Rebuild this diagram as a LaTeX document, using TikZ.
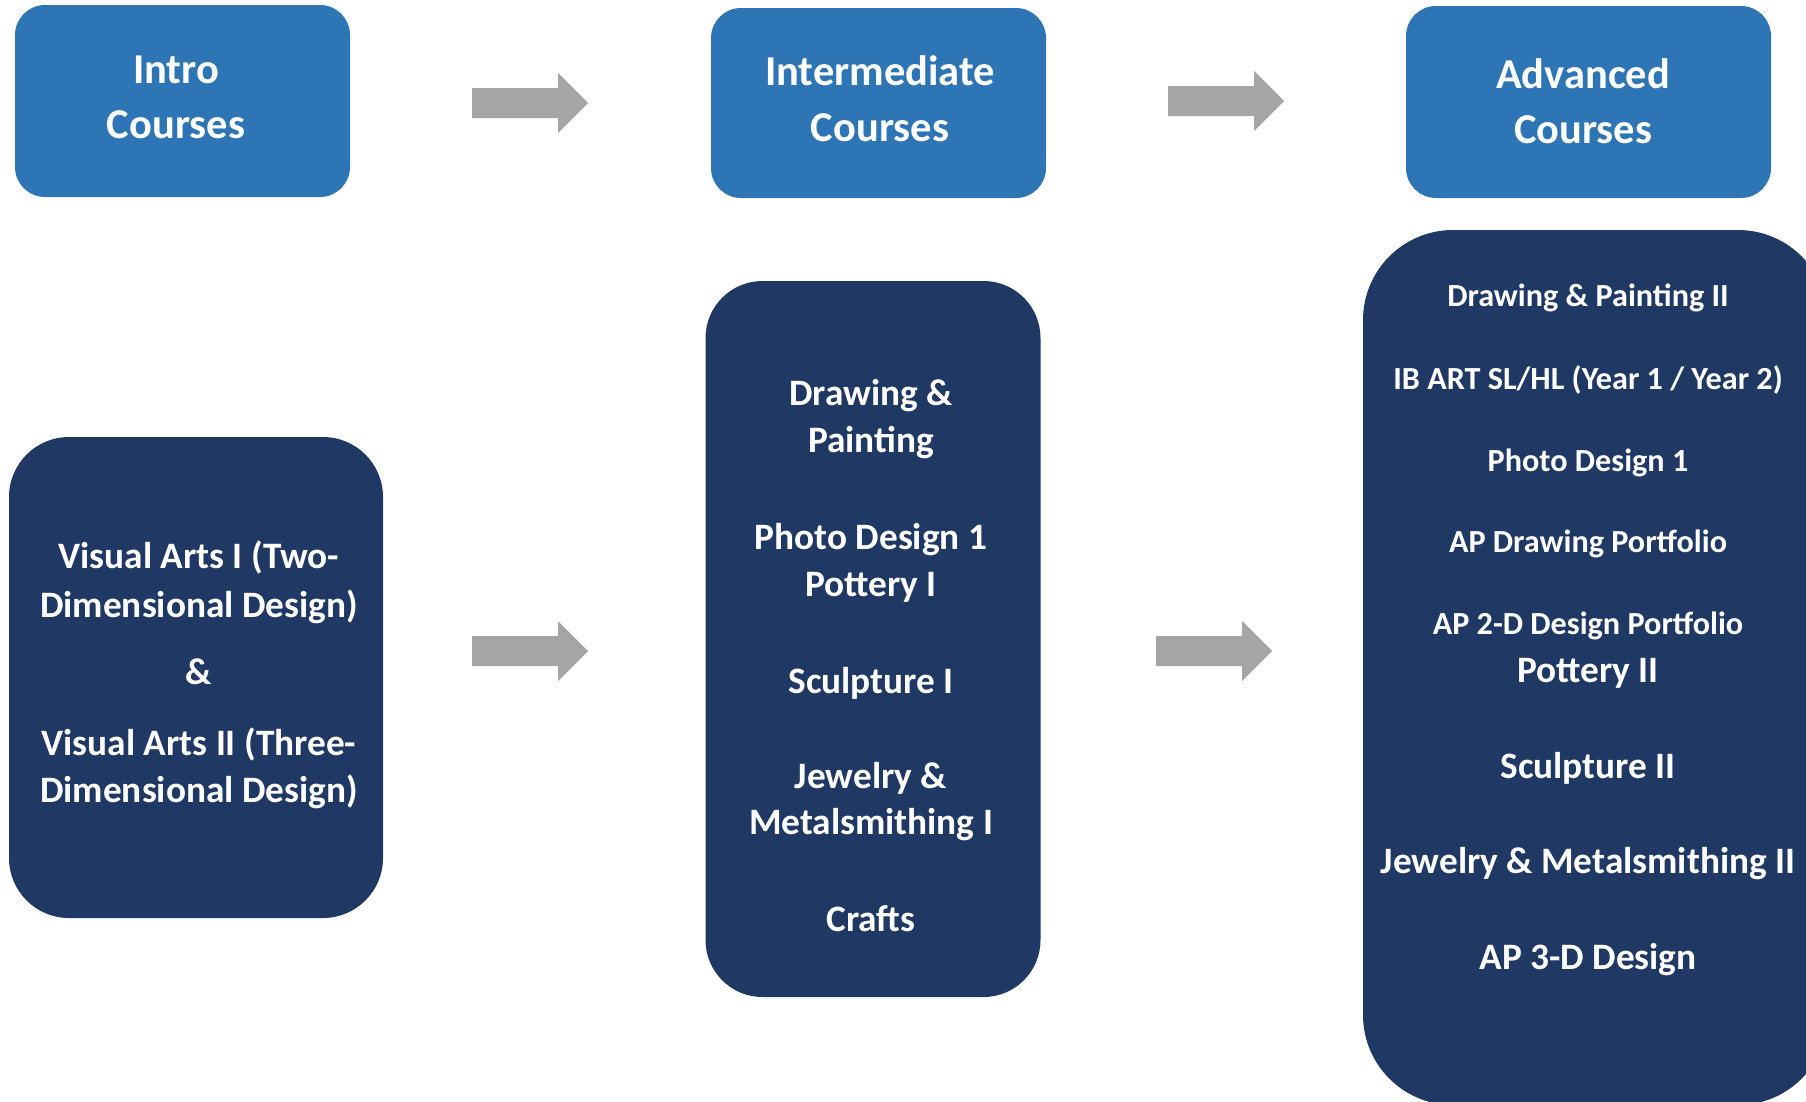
\documentclass[tikz,border=0pt]{standalone}
\usepackage{fontspec}
\setmainfont{Carlito}
\definecolor{hdrblue}{HTML}{2E75B6}
\definecolor{navy}{HTML}{203864}
\definecolor{arrgray}{HTML}{A5A5A5}
\tikzset{
  hdr/.style={fill=hdrblue, draw=none, rounded corners=30pt, inner sep=0pt},
  panel/.style={fill=navy, draw=none, inner sep=0pt},
  txt/.style={text=white, inner sep=0pt, text height=0.68em, text depth=0.18em, yshift=-0.285*#1pt, font=\bfseries\fontsize{#1}{#1}\selectfont},
  arrfill/.style={fill=arrgray, draw=none}
}
\newcommand{\blockarrow}[2]{%
  \fill[arrfill] (#1,#2) ++(0,-15) -- ++(86,0) -- ++(0,-15) -- ++(30,30) -- ++(-30,30) -- ++(0,-15) -- ++(-86,0) -- cycle;}
\begin{document}
\begin{tikzpicture}[x=1pt,y=-1pt]
\useasboundingbox (0,0) rectangle (1806,1101);
\clip (0,0) rectangle (1806,1101);
\fill[white] (0,0) rectangle (1806,1101);
% header boxes
\node[hdr, minimum width=335pt, minimum height=192pt] (intro) at (182.5,101) {};
\node[hdr, minimum width=335pt, minimum height=190pt] (inter) at (878.5,103) {};
\node[hdr, minimum width=365pt, minimum height=192pt] (adv) at (1588.5,102) {};
\node[txt=42.5] (t1a) at (176,69) {Intro};
\node[txt=42.5] (t1b) at (176,124) {Courses};
\node[txt=42.5] (t2a) at (880,71) {Intermediate};
\node[txt=42.5] (t2b) at (880,127) {Courses};
\node[txt=42.5] (t3a) at (1583,74) {Advanced};
\node[txt=42.5] (t3b) at (1583,129) {Courses};
% panels
\node[panel, rounded corners=60pt, minimum width=374pt, minimum height=481pt] (pleft) at (196,677.5) {};
\node[panel, rounded corners=57pt, minimum width=335pt, minimum height=716pt] (pmid) at (873,639) {};
\node[panel, rounded corners=90pt, minimum width=465pt, minimum height=875pt] (pright) at (1595.5,667.5) {};
% left texts
\node[txt=37.3] (l1) at (199,555) {Visual Arts I (Two-};
\node[txt=37.3] (l2) at (199,604) {Dimensional Design)};
\node[txt=37.3] (l3) at (199,671) {\&};
\node[txt=37.3] (l4) at (199,742) {Visual Arts II (Three-};
\node[txt=37.3] (l5) at (199,789) {Dimensional Design)};
% middle texts
\node[txt=37.3] (m1) at (871,392) {Drawing \&};
\node[txt=37.3] (m2) at (871,439) {Painting};
\node[txt=37.3] (m3) at (871,536) {Photo Design 1};
\node[txt=37.3] (m4) at (871,583) {Pottery I};
\node[txt=37.3] (m5) at (871,680) {Sculpture I};
\node[txt=37.3] (m6) at (871,775) {Jewelry \&};
\node[txt=37.3] (m7) at (871,821) {Metalsmithing I};
\node[txt=37.3] (m8) at (871,918) {Crafts};
% right texts
\node[txt=32.2] (r1) at (1588,295) {Drawing \& Painting II};
\node[txt=32.2] (r2) at (1588,378) {IB ART SL/HL (Year 1 / Year 2)};
\node[txt=32.2] (r3) at (1588,460) {Photo Design 1};
\node[txt=32.2] (r4) at (1588,541) {AP Drawing Portfolio};
\node[txt=32.2] (r5) at (1588,623) {AP 2-D Design Portfolio};
\node[txt=37.3] (r6) at (1588,669) {Pottery II};
\node[txt=37.3] (r7) at (1588,765) {Sculpture II};
\node[txt=37.3] (r8) at (1588,860) {Jewelry \& Metalsmithing II};
\node[txt=37.3] (r9) at (1588,956) {AP 3-D Design};
% arrows
\blockarrow{472}{103}
\blockarrow{1168}{101}
\blockarrow{472}{651}
\blockarrow{1156}{651}
\end{tikzpicture}
\end{document}
